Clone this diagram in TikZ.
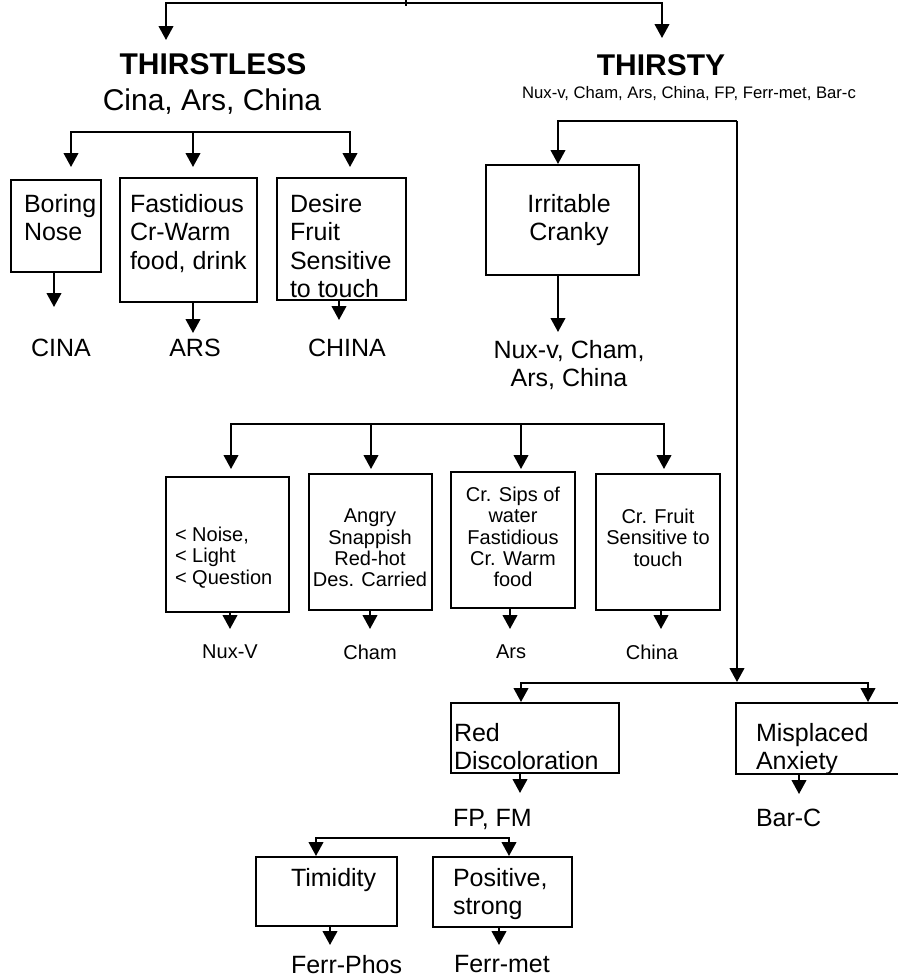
\documentclass[tikz,border=0pt]{standalone}
\usepackage{fontspec}
\setmainfont{Liberation Sans}
\usetikzlibrary{arrows.meta, fit}
\tikzset{
  every picture/.style={x=0.75pt, y=-0.75pt, line width=1.5pt},
  box/.style={draw, inner sep=0pt, line width=1.5pt},
  arrow/.style={-{Triangle[width=11pt, length=10.5pt]}, line width=1.5pt},
  head/.style={font=\bfseries\fontsize{22.5}{26}\selectfont, inner sep=0pt, anchor=base},
  big/.style={font=\fontsize{22.5}{26}\selectfont, inner sep=0pt, anchor=base},
  txt/.style={font=\fontsize{18.75}{21.4}\selectfont, inner sep=0pt, align=left, anchor=north west},
  lab/.style={font=\fontsize{18.75}{21.4}\selectfont, inner sep=0pt, align=center, anchor=north},
  sml/.style={font=\fontsize{15}{16}\selectfont, inner sep=0pt, align=center, anchor=north},
}
\begin{document}
\begin{tikzpicture}
  \useasboundingbox (0,0) rectangle (898,978);
  % headings
  \node[head] (thirstless) at (213,74) {THIRSTLESS};
  \node[big] (thirstlessRem) at (212,110) {Cina, Ars, China};
  \node[head] (thirsty) at (661,75) {THIRSTY};
  \node[font=\fontsize{12.5}{14}\selectfont, inner sep=0pt, anchor=base] (thirstyRem) at (689,98) {Nux-v, Cham, Ars, China, FP, Ferr-met, Bar-c};
  % top bus
  \coordinate (root) at (406,0);
  \coordinate (topJ) at (406,3);
  \coordinate (toL) at (166,40);
  \coordinate (toR) at (662,38);
  \draw (root) -- ++(0,6);
  \foreach \t in {toL,toR} \draw[arrow] (topJ) -| (\t);

  % left: thirstless
  \node[box, fit={(11,180) (101,272)}] (boring) {};
  \node[box, fit={(120,178) (257,302)}] (fastid) {};
  \node[box, fit={(277,178) (406,300)}] (desire) {};
  \node[txt] (boringT) at (23,193) {Boring\\Nose};
  \node[txt] (fastidT) at (129,193) {Fastidious\\Cr-Warm\\food, drink};
  \node[txt] (desireT) at (289,193) {Desire\\Fruit\\Sensitive\\to touch};
  \node[lab] (cina) at (61,338) {CINA};
  \node[lab] (ars) at (195,338) {ARS};
  \node[lab] (china) at (347,338) {CHINA};
  \coordinate (leftJ) at (211,132);
  \foreach \x in {71,193,350} \draw[arrow] (leftJ) -| (\x,167);

  % right: thirsty
  \node[box, fit={(486,165) (639,275)}] (irrit) {};
  \node[lab] (irritT) at (569,193) {Irritable\\Cranky};
  \node[lab] (irritRem) at (569,339) {Nux-v, Cham,\\Ars, China};
  \coordinate (rightJ) at (737,121);
  \coordinate (lowJ) at (737,683);
  \draw[arrow] (rightJ) -| (558,164);
  \draw[arrow] (rightJ) -- ([yshift=0.75pt]lowJ);

  % second row under irritable
  \node[box, fit={(166,477) (289,612)}] (noise) {};
  \node[box, fit={(309,474) (432,610)}] (angry) {};
  \node[box, fit={(451,472) (575,608)}] (sips) {};
  \node[box, fit={(596,474) (720,610)}] (fruit) {};
  \node[sml, align=left, anchor=north west] (noiseT) at (174,526) {< Noise,\\< Light\\< Question};
  \node[sml] (angryT) at (370,508) {Angry\\Snappish\\Red-hot\\Des. Carried};
  \node[sml] (sipsT) at (513,486) {Cr. Sips of\\water\\Fastidious\\Cr. Warm\\food};
  \node[sml] (fruitT) at (658,508) {Cr. Fruit\\Sensitive to\\touch};
  \node[sml] (nuxv) at (230,644) {Nux-V};
  \node[sml] (cham) at (370,644) {Cham};
  \node[sml] (ars2) at (511,644) {Ars};
  \node[sml] (china2) at (652,644) {China};
  \coordinate (midJ) at (447,424);
  \foreach \x in {231,371,521,664} \draw[arrow] (midJ) -| (\x,469);

  % lower right
  \node[box, fit={(451,703) (619,773)}] (red) {};
  \node[box, fit={(736,703) (905,774)}] (misplaced) {};
  \node[txt] (redT) at (453,722) {Red\\Discoloration};
  \node[txt] (fpfm) at (452,808) {FP, FM};
  \node[txt] (misplacedT) at (755,722) {Misplaced\\Anxiety};
  \node[txt] (barc) at (755,808) {Bar-C};
  \foreach \x in {521,868} \draw[arrow] (lowJ) -| (\x,702);

  % bottom
  \node[box, fit={(256,857) (397,926)}] (timid) {};
  \node[box, fit={(433,857) (572,927)}] (positive) {};
  \node[txt] (timidT) at (290,867) {Timidity};
  \node[txt] (positiveT) at (452,867) {Positive,\\strong};
  \node[txt] (ferrphos) at (290,954) {Ferr-Phos};
  \node[txt] (ferrmet) at (453,954) {Ferr-met};
  \coordinate (botJ) at (412,838);
  \foreach \x in {316,509} \draw[arrow] (botJ) -| (\x,856);

  % box to remedy arrows
  \foreach \b/\x/\y in {boring/54/307, fastid/193/333, desire/339/320, irrit/558/332,
      noise/230/629, angry/370/629, sips/510/629, fruit/661/629,
      red/520/793, misplaced/799/794, timid/330/945, positive/499/945}
    \draw[arrow] (\b.south -| \x,0) -- (\x,\y);
\end{tikzpicture}
\end{document}
